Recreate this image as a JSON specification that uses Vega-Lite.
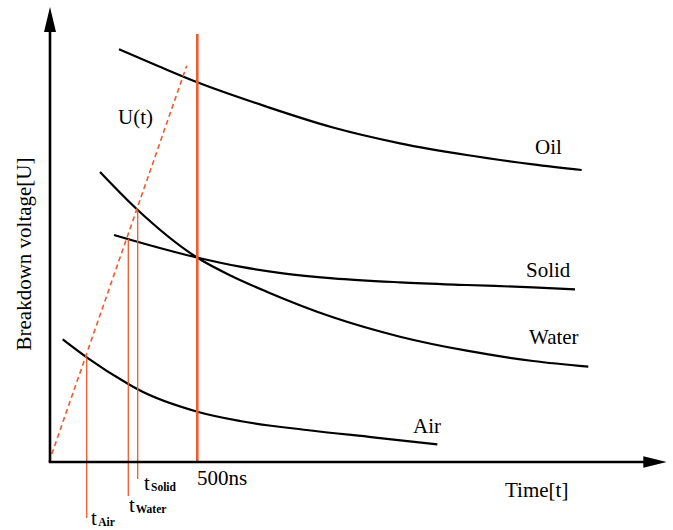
{
  "$schema": "https://vega.github.io/schema/vega-lite/v6.json",
  "width": 673,
  "height": 530,
  "autosize": {"type": "none"},
  "padding": 0,
  "background": "white",
  "config": {"view": {"stroke": null}},
  "datasets": {
    "curves": [
      {"series": "Oil", "t": 70, "U": 412.7},
      {"series": "Oil", "t": 109, "U": 396},
      {"series": "Oil", "t": 148.3, "U": 379.7},
      {"series": "Oil", "t": 217.7, "U": 355.3},
      {"series": "Oil", "t": 284, "U": 334.5},
      {"series": "Oil", "t": 351, "U": 318.7},
      {"series": "Oil", "t": 417.7, "U": 307},
      {"series": "Oil", "t": 484, "U": 297.7},
      {"series": "Oil", "t": 532.7, "U": 292},
      {"series": "Solid", "t": 65, "U": 227},
      {"series": "Solid", "t": 78.7, "U": 223},
      {"series": "Solid", "t": 148, "U": 204.5},
      {"series": "Solid", "t": 191, "U": 195.3},
      {"series": "Solid", "t": 234, "U": 188.7},
      {"series": "Solid", "t": 284, "U": 183.7},
      {"series": "Solid", "t": 351, "U": 179.7},
      {"series": "Solid", "t": 417.7, "U": 177},
      {"series": "Solid", "t": 484, "U": 174.7},
      {"series": "Solid", "t": 526, "U": 172.7},
      {"series": "Water", "t": 51, "U": 290},
      {"series": "Water", "t": 88.7, "U": 252},
      {"series": "Water", "t": 148, "U": 204.5},
      {"series": "Water", "t": 184, "U": 185.3},
      {"series": "Water", "t": 217.7, "U": 170.3},
      {"series": "Water", "t": 284, "U": 144.7},
      {"series": "Water", "t": 351, "U": 125.3},
      {"series": "Water", "t": 417.7, "U": 111.3},
      {"series": "Water", "t": 484, "U": 101},
      {"series": "Water", "t": 539.3, "U": 95.3},
      {"series": "Air", "t": 13.7, "U": 122.7},
      {"series": "Air", "t": 37.7, "U": 104.7},
      {"series": "Air", "t": 79.3, "U": 78},
      {"series": "Air", "t": 88.7, "U": 72.7},
      {"series": "Air", "t": 148.3, "U": 50.3},
      {"series": "Air", "t": 191, "U": 41},
      {"series": "Air", "t": 257.7, "U": 32},
      {"series": "Air", "t": 324.3, "U": 24.7},
      {"series": "Air", "t": 388.3, "U": 17.7}
    ],
    "ramp": [
      {"t": 0, "U": 0},
      {"t": 137.7, "U": 396.3}
    ],
    "markers": [
      {"name": "tAir", "t": 37.7, "U": 104.7, "U2": -56},
      {"name": "tWater", "t": 79.3, "U": 223, "U2": -34},
      {"name": "tSolid", "t": 88.7, "U": 252, "U2": -17}
    ],
    "limit": [
      {"name": "500ns", "t": 148.3, "U": 428, "U2": 0}
    ],
    "axes": [
      {"axis": "voltage", "t": 1, "U": -1, "t2": 1, "U2": 431},
      {"axis": "time", "t": 0, "U": 0, "t2": 597, "U2": 0}
    ],
    "yticks": [
      {"U": 13.9}, {"U": 27.8}, {"U": 41.7}, {"U": 55.6}, {"U": 69.5},
      {"U": 83.4}, {"U": 97.3}, {"U": 111.2}, {"U": 125.1}, {"U": 139},
      {"U": 152.9}, {"U": 166.8}, {"U": 180.7}, {"U": 194.6}, {"U": 208.5},
      {"U": 222.4}, {"U": 236.3}, {"U": 250.2}, {"U": 264.1}, {"U": 278},
      {"U": 291.9}, {"U": 305.8}, {"U": 319.7}, {"U": 333.6}, {"U": 347.5},
      {"U": 361.4}, {"U": 375.3}, {"U": 389.2}, {"U": 403.1}, {"U": 417}
    ],
    "labels": [
      {"label": "U(t)", "t": 69, "U": 338},
      {"label": "Oil", "t": 486, "U": 308.5},
      {"label": "Solid", "t": 477, "U": 185},
      {"label": "Water", "t": 480, "U": 118},
      {"label": "Air", "t": 364, "U": 29},
      {"label": "500ns", "t": 148, "U": -23},
      {"label": "Time[t]", "t": 456, "U": -35},
      {"label": "t", "t": 42, "U": -63},
      {"label": "t", "t": 80, "U": -50.3},
      {"label": "t", "t": 95, "U": -28}
    ],
    "subscripts": [
      {"label": "Air", "t": 49.3, "U": -64},
      {"label": "Water", "t": 86.7, "U": -51.3},
      {"label": "Solid", "t": 102, "U": -29}
    ],
    "ytitle": [
      {"label": "Breakdown voltage[U]", "t": -24, "U": 208}
    ],
    "arrowUp": [{"t": 1, "U": 442.5}],
    "arrowRight": [{"t": 606, "U": 0}]
  },
  "encoding": {
    "x": {"field": "t", "type": "quantitative", "scale": {"domain": [-49, 624], "nice": false, "zero": false}, "axis": null},
    "y": {"field": "U", "type": "quantitative", "scale": {"domain": [-68, 462], "nice": false, "zero": false}, "axis": null}
  },
  "layer": [
    {
      "data": {"name": "curves"},
      "mark": {"type": "line", "color": "black", "strokeWidth": 2.2, "interpolate": "monotone"},
      "encoding": {"detail": {"field": "series", "type": "nominal"}}
    },
    {
      "data": {"name": "ramp"},
      "mark": {"type": "line", "color": "#f05a2d", "strokeWidth": 1.6, "strokeDash": [5, 3.5]},
      "encoding": {}
    },
    {
      "data": {"name": "markers"},
      "mark": {"type": "rule", "color": "#f05a2d", "strokeWidth": 1.3},
      "encoding": {"y2": {"field": "U2"}}
    },
    {
      "data": {"name": "limit"},
      "mark": {"type": "rule", "color": "#f05a2d", "strokeWidth": 2.6},
      "encoding": {"y2": {"field": "U2"}}
    },
    {
      "data": {"name": "yticks"},
      "mark": {"type": "rule", "color": "black", "strokeWidth": 1.6},
      "encoding": {"x": {"datum": 2, "type": "quantitative"}, "x2": {"datum": 4.5}}
    },
    {
      "data": {"name": "axes"},
      "mark": {"type": "rule", "color": "black", "strokeWidth": 2.6},
      "encoding": {"x2": {"field": "t2"}, "y2": {"field": "U2"}}
    },
    {
      "data": {"name": "arrowUp"},
      "mark": {"type": "point", "shape": "M0,-1L0.48,1L-0.48,1Z", "size": 625, "filled": true, "color": "black", "opacity": 1}
    },
    {
      "data": {"name": "arrowRight"},
      "mark": {"type": "point", "shape": "M1,0L-1,-0.5L-1,0.5Z", "size": 548, "filled": true, "color": "black", "opacity": 1}
    },
    {
      "data": {"name": "labels"},
      "mark": {"type": "text", "font": "Liberation Serif", "fontSize": 21, "align": "left", "baseline": "alphabetic", "color": "black"},
      "encoding": {"text": {"field": "label"}}
    },
    {
      "data": {"name": "subscripts"},
      "mark": {"type": "text", "font": "Liberation Serif", "fontSize": 11.5, "fontWeight": "bold", "align": "left", "baseline": "alphabetic", "color": "black"},
      "encoding": {"text": {"field": "label"}}
    },
    {
      "data": {"name": "ytitle"},
      "mark": {"type": "text", "font": "Liberation Serif", "fontSize": 21, "angle": 270, "align": "center", "baseline": "middle", "color": "black"},
      "encoding": {"text": {"field": "label"}}
    }
  ]
}
